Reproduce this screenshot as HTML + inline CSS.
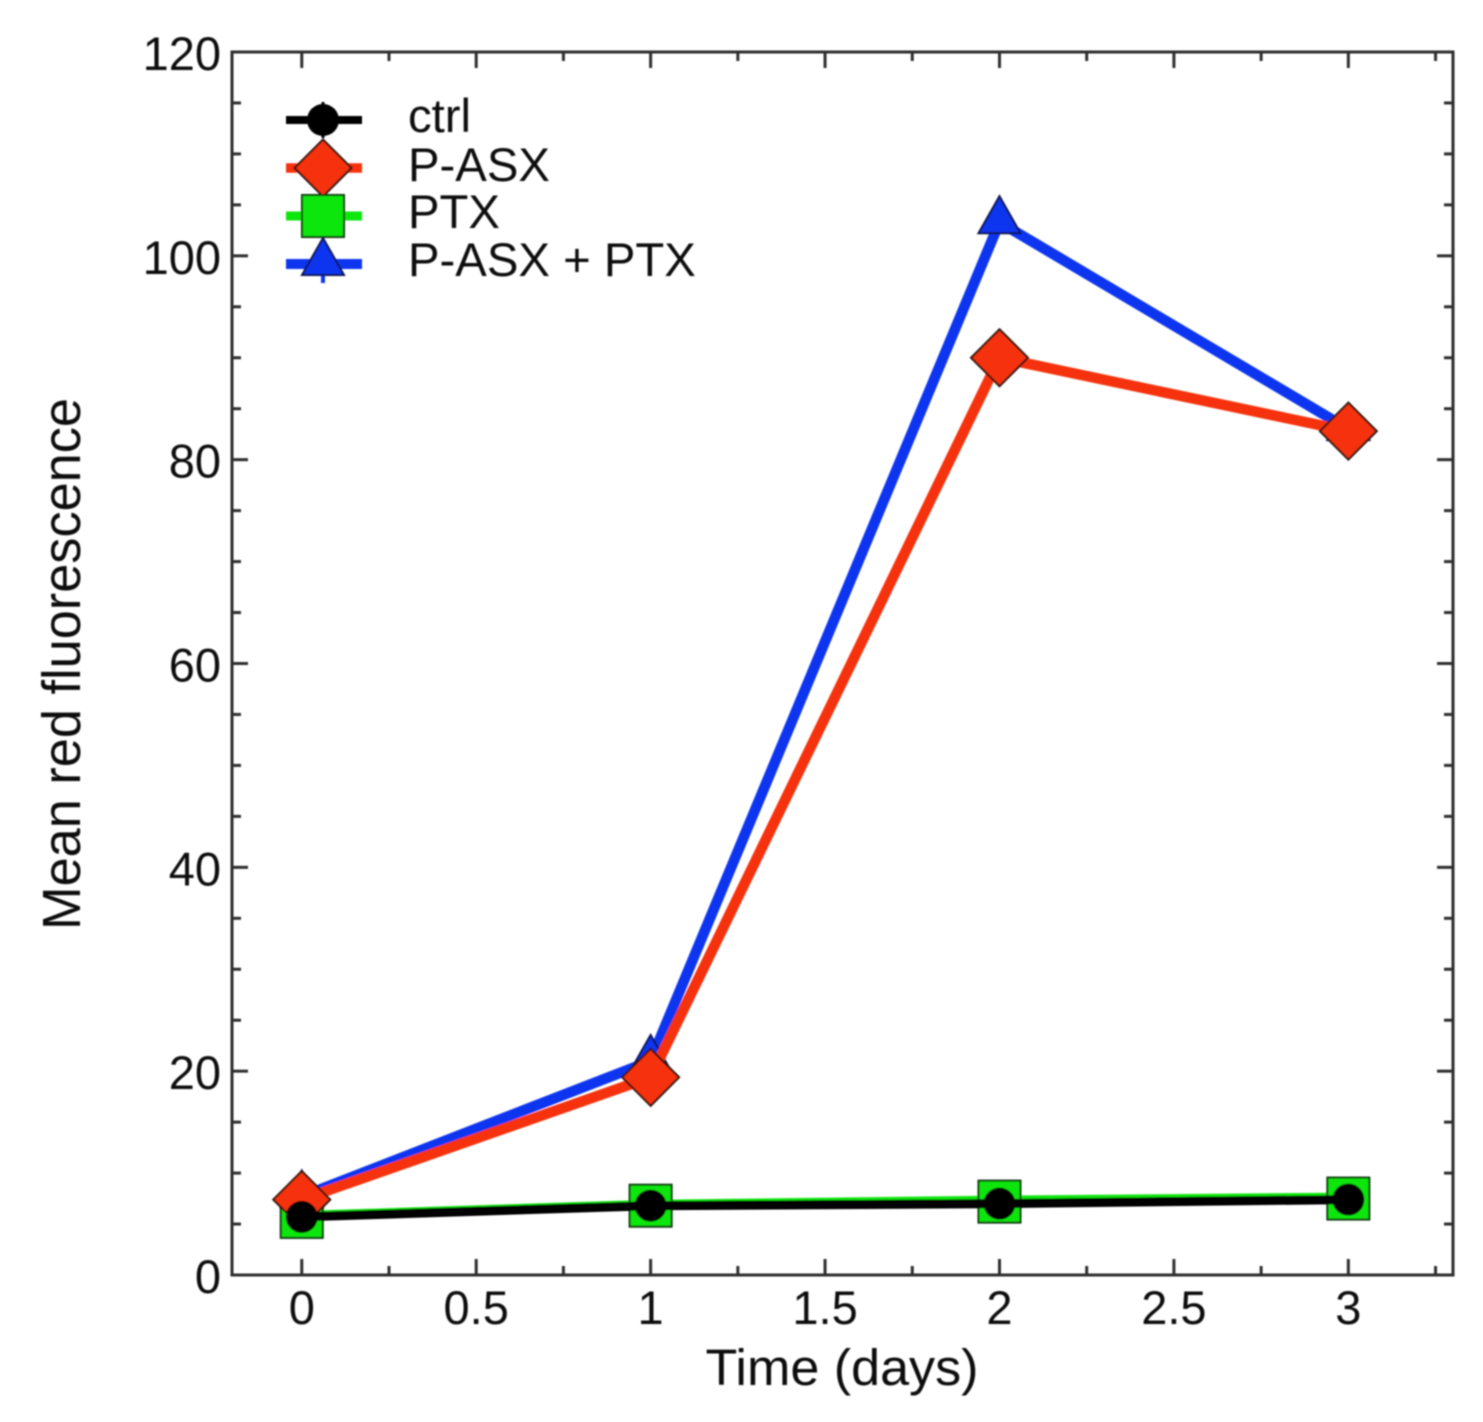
<!DOCTYPE html>
<html lang="en">
<head>
<meta charset="utf-8">
<title>Mean red fluorescence over time</title>
<style>
  html, body { margin: 0; padding: 0; background: #fff; }
  svg { display: block; }
  text { font-family: "Liberation Sans", Arial, sans-serif; fill: #111; }
</style>
</head>
<body>
<svg id="chart" xmlns="http://www.w3.org/2000/svg" width="1483" height="1422" viewBox="0 0 1483 1422">
  <defs>
    <filter id="soft" x="-5%" y="-5%" width="110%" height="110%">
      <feGaussianBlur stdDeviation="0.9"/>
    </filter>
  </defs>
  <rect width="1483" height="1422" fill="#fff"/>
  <g id="root" filter="url(#soft)"></g>
</svg>
<script>
const days = [0, 1, 2, 3];
const ctrlValues = [5.7, 6.8, 7.0, 7.4];
const pAsxValues = [7.4, 19.4, 90.0, 82.8];
const ptxValues = [5.7, 6.8, 7.2, 7.5];
const pAsxPtxValues = [7.7, 21.0, 103.3, 83.0];
const xMajorTicks = [0, 0.5, 1, 1.5, 2, 2.5, 3];
const xTickLabels = ['0', '0.5', '1', '1.5', '2', '2.5', '3'];
const xMinorTicks = [0.25, 0.75, 1.25, 1.75, 2.25, 2.75, 3.25];
const yMajorTicks = [0, 20, 40, 60, 80, 100, 120];
const yTickLabels = ['0', '20', '40', '60', '80', '100', '120'];
const yMinorTicks = [5, 10, 15, 25, 30, 35, 45, 50, 55, 65, 70, 75, 85, 90, 95, 105, 110, 115];
const legendLabels = ['ctrl', 'P-ASX', 'PTX', 'P-ASX + PTX'];

const SVG_NS = 'http://www.w3.org/2000/svg';
const root = document.getElementById('root');
const plot = { left: 232, right: 1453, top: 52, bottom: 1275 };
const xDomain = [-0.2, 3.3];
const yDomain = [0, 120];
const xScale = v => plot.left + (v - xDomain[0]) / (xDomain[1] - xDomain[0]) * (plot.right - plot.left);
const yScale = v => plot.bottom - (v - yDomain[0]) / (yDomain[1] - yDomain[0]) * (plot.bottom - plot.top);

function make(tag, attrs, parent) {
  const el = document.createElementNS(SVG_NS, tag);
  for (const k in attrs) el.setAttribute(k, attrs[k]);
  (parent || root).appendChild(el);
  return el;
}

const AXIS = '#2e2e2e';
const OUTLINE = '#2a1408';

function drawMarker(kind, cx, cy, color, parent) {
  let el;
  if (kind === 'circle') {
    el = make('circle', { cx: cx, cy: cy, r: 16, fill: '#000' }, parent);
  } else if (kind === 'diamond') {
    const h = 28.5;
    el = make('polygon', { points: `${cx},${cy - h} ${cx + h},${cy} ${cx},${cy + h} ${cx - h},${cy}`, fill: color, stroke: OUTLINE, 'stroke-width': 2 }, parent);
  } else if (kind === 'square') {
    const h = 21;
    el = make('rect', { x: cx - h, y: cy - h, width: 2 * h, height: 2 * h, fill: color, stroke: '#0c3a0c', 'stroke-width': 2 }, parent);
  } else {
    el = make('polygon', { points: `${cx},${cy - 26} ${cx + 21},${cy + 11} ${cx - 21},${cy + 11}`, fill: color, stroke: '#0a1450', 'stroke-width': 2 }, parent);
  }
  return el;
}

/* frame */
const frame = make('rect', { x: plot.left, y: plot.top, width: plot.right - plot.left, height: plot.bottom - plot.top, fill: 'none', stroke: AXIS, 'stroke-width': 3 });



/* ticks */
const ticks = make('g', { stroke: AXIS, 'stroke-width': 3 });


function xTick(v, len) {
  const x = xScale(v);
  make('line', { x1: x, x2: x, y1: plot.bottom, y2: plot.bottom - len }, ticks);
  make('line', { x1: x, x2: x, y1: plot.top, y2: plot.top + len }, ticks);
}
function yTick(v, len) {
  const y = yScale(v);
  make('line', { x1: plot.left, x2: plot.left + len, y1: y, y2: y }, ticks);
  make('line', { x1: plot.right, x2: plot.right - len, y1: y, y2: y }, ticks);
}
xMajorTicks.forEach(v => xTick(v, 16));
xMinorTicks.forEach(v => xTick(v, 9));
yMajorTicks.forEach(v => yTick(v, 16));
yMinorTicks.forEach(v => yTick(v, 9));

/* tick labels */
xMajorTicks.forEach((v, i) => {
  const t = make('text', { x: xScale(v), y: 1324, 'text-anchor': 'middle', 'font-size': 47 });
  t.textContent = xTickLabels[i];
  
  
});
yMajorTicks.forEach((v, i) => {
  const t = make('text', { x: 221, y: yScale(v) + 18, 'text-anchor': 'end', 'font-size': 47 });
  t.textContent = yTickLabels[i];
  
  
});

/* axis titles */
const xTitle = make('text', { x: 842, y: 1385, 'text-anchor': 'middle', 'font-size': 51, textLength: 273, lengthAdjust: 'spacingAndGlyphs' });
xTitle.textContent = 'Time (days)';



const yTitle = make('text', { x: 0, y: 0, 'text-anchor': 'middle', 'font-size': 54, textLength: 532, lengthAdjust: 'spacingAndGlyphs', transform: 'translate(80,664) rotate(-90)' });
yTitle.textContent = 'Mean red fluorescence';



/* series, painted back to front */
const paintOrder = [
  { name: 'p-asx-ptx', values: pAsxPtxValues, color: '#0b36f0', width: 10.5, marker: 'triangle', offset: 0 },
  { name: 'ptx', values: ptxValues, color: '#0ce60c', width: 9, marker: 'square', offset: -1.5 },
  { name: 'p-asx', values: pAsxValues, color: '#f5300a', width: 10.5, marker: 'diamond', offset: 0 },
  { name: 'ctrl', values: ctrlValues, color: '#000', width: 9, marker: 'circle', offset: 0 }
];
paintOrder.forEach(s => {
  const g = make('g', {});
  
  
  const pts = days.map((d, i) => `${xScale(d)},${yScale(s.values[i]) + s.offset}`).join(' ');
  const line = make('polyline', { points: pts, fill: 'none', stroke: s.color, 'stroke-width': s.width, 'stroke-linejoin': 'miter' }, g);
  
  
  days.forEach((d, i) => {
    const m = drawMarker(s.marker, xScale(d), yScale(s.values[i]), s.color, g);
    
    
  });
});

/* legend */
const legendKeys = [
  { marker: 'circle', color: '#000', width: 8 },
  { marker: 'diamond', color: '#f5300a', width: 9.5 },
  { marker: 'square', color: '#0ce60c', width: 9 },
  { marker: 'triangle', color: '#0b36f0', width: 10 }
];
const legendLineY = [120, 168, 216, 264];
const legendTextY = [132, 181, 228, 276];
const legend = make('g', {});


legendLabels.forEach((label, i) => {
  const entry = make('g', {}, legend);
  
  
  const k = legendKeys[i];
  make('line', { x1: 286, x2: 362, y1: legendLineY[i], y2: legendLineY[i], stroke: k.color, 'stroke-width': k.width }, entry);
  if (k.marker === 'circle') {
    make('line', { x1: 323, x2: 323, y1: legendLineY[i] - 18, y2: legendLineY[i] + 18, stroke: '#000', 'stroke-width': 3 }, entry);
  }
  if (k.marker === 'triangle') {
    make('line', { x1: 323, x2: 323, y1: legendLineY[i] + 11, y2: legendLineY[i] + 19, stroke: k.color, 'stroke-width': 4 }, entry);
  }
  drawMarker(k.marker, 323, legendLineY[i], k.color, entry);
  const t = make('text', { x: 408, y: legendTextY[i], 'font-size': 47.3 }, entry);
  t.textContent = label;
});
</script>
</body>
</html>
